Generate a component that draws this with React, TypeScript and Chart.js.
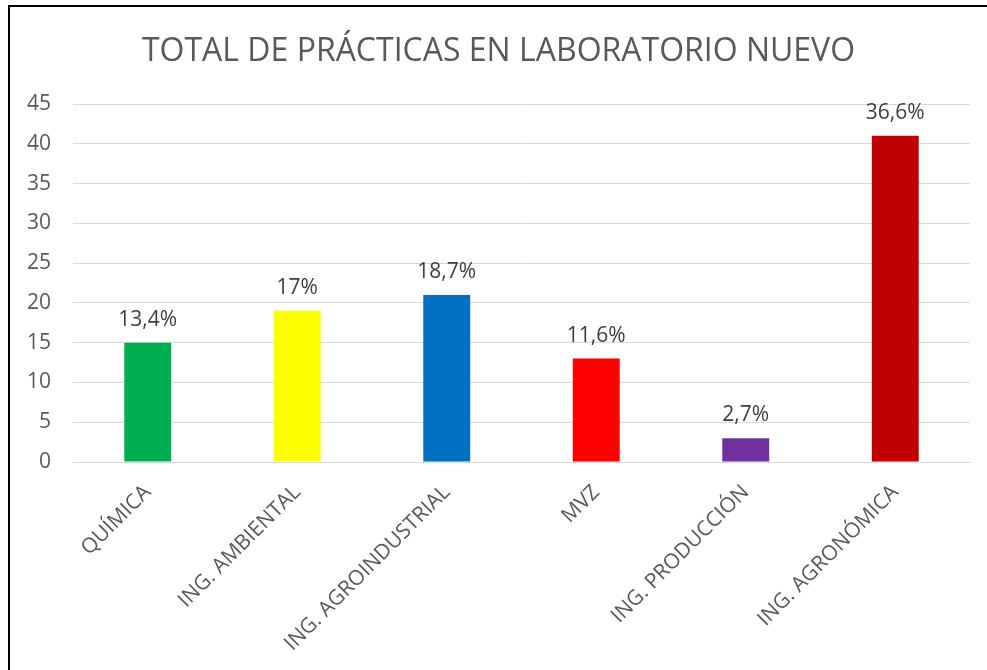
import React, { useEffect, useRef } from "react";
import { Chart, registerables } from "chart.js";

Chart.register(...registerables);

const chartTitle = "TOTAL DE PRÁCTICAS EN LABORATORIO NUEVO";
const categories = [
  "QUÍMICA",
  "ING. AMBIENTAL",
  "ING. AGROINDUSTRIAL",
  "MVZ",
  "ING. PRODUCCIÓN",
  "ING. AGRONÓMICA",
];
const values = [15, 19, 21, 13, 3, 41];
const percentLabels = ["13,4%", "17%", "18,7%", "11,6%", "2,7%", "36,6%"];
const barColors = ["#00B050", "#FFFF00", "#0070C0", "#FF0000", "#7030A0", "#C00000"];

const FONT = '"Open Sans", "DejaVu Sans", sans-serif';

export default function App() {
  const ref = useRef<HTMLCanvasElement | null>(null);

  useEffect(() => {
    if (!ref.current) return;
    const titlePlugin = {
      id: "customTitle",
      afterDraw(chart: any) {
        const ctx = chart.ctx;
        ctx.save();
        ctx.font = `32px ${FONT}`;
        ctx.fillStyle = "#595959";
        ctx.textAlign = "center";
        ctx.textBaseline = "alphabetic";
        ctx.fillText(chartTitle, chart.width / 2, 54);
        ctx.restore();
      },
    };
    const labelPlugin = {
      id: "barLabels",
      afterDatasetsDraw(chart: any) {
        const ctx = chart.ctx;
        const meta = chart.getDatasetMeta(0);
        ctx.save();
        ctx.font = `21px ${FONT}`;
        ctx.fillStyle = "#404040";
        ctx.textAlign = "center";
        ctx.textBaseline = "alphabetic";
        meta.data.forEach((el: any, i: number) => {
          ctx.fillText(percentLabels[i], el.x, el.y - 17);
        });
        ctx.restore();
      },
    };
    const chart = new Chart(ref.current, {
      type: "bar",
      data: {
        labels: categories,
        datasets: [
          {
            data: values,
            backgroundColor: barColors,
            borderWidth: 0,
            barPercentage: 0.314,
            categoryPercentage: 1,
          },
        ],
      },
      options: {
        responsive: false,
        animation: false,
        layout: { padding: { top: 97, right: 17, left: 0, bottom: 0 } },
        plugins: {
          legend: { display: false },
          title: { display: false },
          tooltip: { enabled: false },
        },
        scales: {
          x: {
            grid: { display: false, drawTicks: false },
            border: { display: true, color: "#d9d9d9", width: 1 },
            ticks: {
              color: "#595959",
              font: { family: FONT, size: 21 },
              maxRotation: 45,
              minRotation: 45,
              autoSkip: false,
              padding: 18,
            },
            afterFit(scale: any) {
              scale.height = 208;
            },
          },
          y: {
            min: 0,
            max: 45,
            grid: { color: "#d9d9d9", lineWidth: 1, drawTicks: false },
            border: { display: false },
            ticks: {
              stepSize: 5,
              color: "#595959",
              font: { family: FONT, size: 21 },
              padding: 22,
            },
            afterFit(scale: any) {
              scale.width = 63;
            },
          },
        },
      },
      plugins: [titlePlugin, labelPlugin],
    });
    return () => chart.destroy();
  }, []);

  return (
    <div
      style={{
        position: "fixed",
        left: 8,
        top: 5,
        right: 0,
        bottom: 0,
        borderTop: "2px solid #000",
        borderLeft: "2px solid #000",
        background: "#fff",
        overflow: "hidden",
      }}
    >
      <canvas ref={ref} width={977} height={663} style={{ display: "block" }} />
    </div>
  );
}
